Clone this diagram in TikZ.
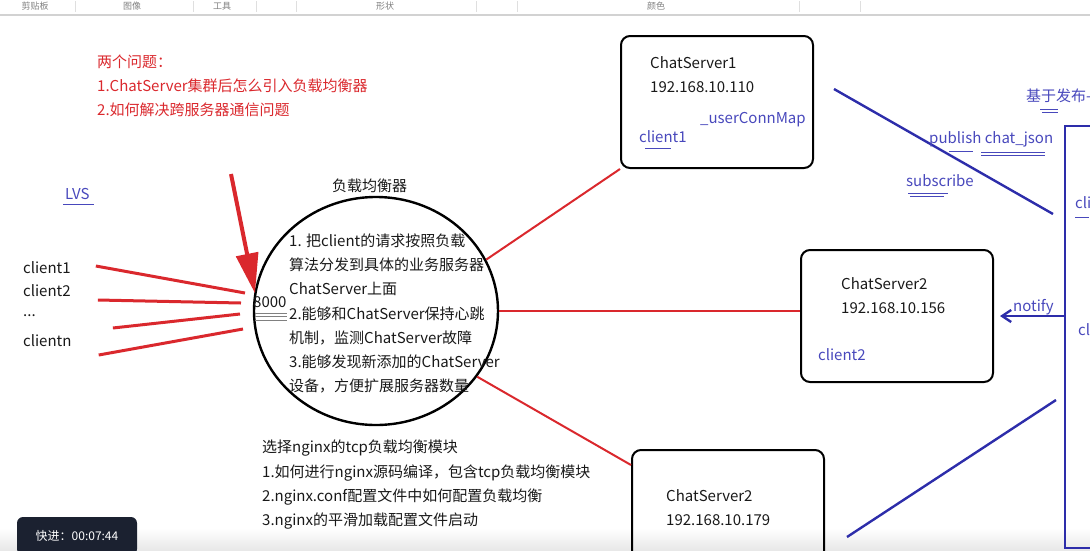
\documentclass[tikz,border=0pt]{standalone}
\usepackage{fontspec}
\setmainfont{Noto Sans CJK SC}
\usetikzlibrary{arrows.meta,positioning,calc,shapes.geometric}
\definecolor{pen}{RGB}{218,40,45}
\definecolor{ink}{RGB}{45,45,170}
\definecolor{inktext}{RGB}{72,72,188}
\definecolor{bar}{RGB}{27,33,48}

\begin{document}
\begin{tikzpicture}[x=1pt,y=-1pt,>=Latex,every node/.style={font=\fontsize{15}{18}\selectfont,inner sep=0pt}]
\tikzstyle{t}=[anchor=west,text=black!90]
\tikzstyle{rt}=[anchor=west,text=pen]
\tikzstyle{bt}=[anchor=west,text=inktext]
\tikzstyle{srv}=[draw,line width=2pt,rounded corners=9pt,minimum width=192pt,minimum height=132pt]
\tikzstyle{rl}=[draw=pen,line width=3pt]
\tikzstyle{sl}=[draw=pen,line width=2pt]
\tikzstyle{bl}=[draw=ink,line width=2.4pt]
\tikzstyle{ul}=[draw=inktext,thin]
\tikzstyle{tb}=[font=\fontsize{9}{10}\selectfont,text=gray]
\useasboundingbox (0,0) rectangle (1090,550);
\clip (0,0) rectangle (1090,550);
\shade[top color=white,bottom color=gray!18] (0,528) rectangle (1090,550);
% toolbar
\draw[gray!35,line width=2pt] (0,15) -- (1090,15);
\foreach \x in {75,193,256,296,476,517,799,860} \draw[gray!25] (\x,1) -- (\x,12);
\node[tb] (tb1) at (35,6) {剪贴板};
\node[tb] (tb2) at (132,6) {图像};
\node[tb] (tb3) at (222,6) {工具};
\node[tb] (tb4) at (385,6) {形状};
\node[tb] (tb5) at (656,6) {颜色};
% questions
\node[rt] (q0) at (97,62) {两个问题：};
\node[rt] (q1) at (97,86) {1.ChatServer集群后怎么引入负载均衡器};
\node[rt] (q2) at (97,110) {2.如何解决跨服务器通信问题};
% clients
\node[bt] (lvs) at (65,194) {LVS};
\draw[ul] ([xshift=-2pt,yshift=-4pt]lvs.south west) -- ([xshift=4pt,yshift=-4pt]lvs.south east);
\node[t] (c1) at (23,268) {client1};
\node[t] (c2) at (23,291) {client2};
\node[t] (c3) at (23,316) {...};
\node[t] (cn) at (23,341) {clientn};
% load balancer
\node[ellipse,draw,line width=2.4pt,minimum width=244pt,minimum height=228pt] (lb) at (376,311) {};
\node[t] (lbname) at (332,186) {负载均衡器};
\node[t] (port) at (253,302) {8000};
\foreach \d in {5,8,12} \draw[gray] ($(port.south west)+(2,\d)$) -- ($(port.south east)+(0,\d)$);
\foreach \s [count=\i] in {1. 把client的请求按照负载,算法分发到具体的业务服务器,ChatServer上面,2.能够和ChatServer保持心跳,机制，监测ChatServer故障,3.能够发现新添加的ChatServer,设备，方便扩展服务器数量}
  \node[t] (lbt\i) at (289,{241+(\i-1)*24.2}) {\s};
\coordinate (p1) at (245,293);
\coordinate (p2) at (241,303);
\coordinate (p3) at (240,314);
\coordinate (pn) at (243,329);
\draw[rl] ([xshift=25pt,yshift=2pt]c1.east) -- (p1);
\draw[rl] ([xshift=27pt,yshift=-9pt]c2.east) -- (p2);
\draw[rl] ([xshift=77pt,yshift=-12pt]c3.east) -- (p3);
\draw[rl] ([xshift=27pt,yshift=-14pt]cn.east) -- (pn);
\coordinate (tail) at (231,174);
\draw[pen,line width=4pt,-{Triangle[width=22pt,length=40pt]}] (tail) -- ([xshift=2pt,yshift=3pt]port.north west);
% nginx
\node[t] (ng0) at (262,448) {选择nginx的tcp负载均衡模块};
\node[t] (ng1) at (262,473) {1.如何进行nginx源码编译，包含tcp负载均衡模块};
\node[t] (ng2) at (262,497) {2.nginx.conf配置文件中如何配置负载均衡};
\node[t] (ng3) at (262,521) {3.nginx的平滑加载配置文件启动};
% servers
\node[srv] (cs1) at (717,102) {};
\node[t] (cs1n) at (650,63) {ChatServer1};
\node[t] (cs1ip) at (650,87) {192.168.10.110};
\node[bt] (cs1c) at (639,137) {client1};
\draw[ul] ([xshift=6pt,yshift=-5pt]cs1c.south west) -- ([xshift=-16pt,yshift=-5pt]cs1c.south east);
\node[bt] (cs1m) at (700,120) {\_userConnMap};
\node[srv] (cs2) at (897,316) {};
\node[t] (cs2n) at (841,284) {ChatServer2};
\node[t] (cs2ip) at (841,308) {192.168.10.156};
\node[bt] (cs2c) at (818,355) {client2};
\node[srv] (cs3) at (728,516) {};
\node[t] (cs3n) at (666,496) {ChatServer2};
\node[t] (cs3ip) at (666,520) {192.168.10.179};
\draw[sl] (lb.25) -- (cs1.south west);
\draw[sl] (lb.east) -- (lb.east -| cs2.west);
\draw[sl] (lb.-33) -- ([yshift=-16pt]cs3.north west);
% message queue
\node[draw=ink,line width=2.4pt,minimum width=60pt,minimum height=422pt,anchor=north west] (mq) at (1064,125) {};
\node[bt] (mqt) at (1026,96) {基于发布-};
\draw[ul] ($(mqt.south west)+(14,6)$) -- ++(18,0);
\draw[ul] ($(mqt.south west)+(16,9)$) -- ++(16,0);
\node[bt] (mqc1) at (1075,203) {cli};
\draw[ul] ($(mqc1.south west)+(0,8)$) -- ++(14,0);
\node[bt] (mqc2) at (1078,330) {cl};
\coordinate (s1) at (834,89);
\coordinate (e1) at (1053,214);
\draw[bl] (s1) -- (e1);
\node[bt] (pub) at (929,139) {publish chat\_json};
\draw[ul] ($(pub.south west)+(20,4)$) -- ++(24,0);
\draw[ul] ($(pub.south west)+(52,5)$) -- ++(64,0);
\draw[ul] ($(pub.south west)+(52,8)$) -- ++(64,0);
\node[bt] (sub) at (906,181) {subscribe};
\draw[ul] ($(sub.south west)+(2,6)$) -- ++(40,0);
\draw[ul] ($(sub.south west)+(4,9)$) -- ++(34,0);
\draw[bl,-{Straight Barb[length=9pt,width=12pt]}] (mq.west |- cs2.east) -- ([xshift=6pt]cs2.east);
\node[bt] (ntf) at (1013,307) {notify};
\coordinate (s3) at (847,537);
\coordinate (e3) at (1056,400);
\draw[bl] (s3) -- (e3);
% player overlay
\node[fill=bar,rounded corners=6pt,minimum width=120pt,minimum height=38pt,text=white,font=\fontsize{12}{14}\selectfont] (ff) at (77,536) {快进：00:07:44};
\end{tikzpicture}
\end{document}
